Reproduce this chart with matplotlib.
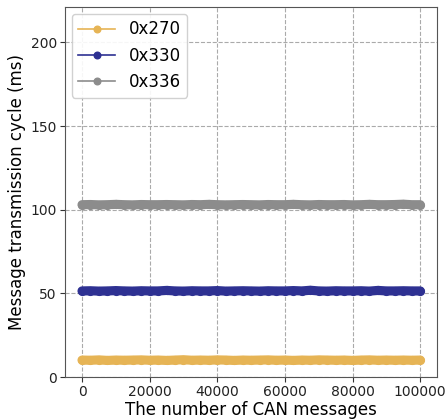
import matplotlib
matplotlib.use('Agg')
import matplotlib.pyplot as plt

# message index (every 2500 messages)
msg_idx = [0, 2500, 5000, 7500, 10000, 12500, 15000, 17500, 20000, 22500,
           25000, 27500, 30000, 32500, 35000, 37500, 40000, 42500, 45000, 47500,
           50000, 52500, 55000, 57500, 60000, 62500, 65000, 67500, 70000, 72500,
           75000, 77500, 80000, 82500, 85000, 87500, 90000, 92500, 95000, 97500,
           100000]

# transmission cycle (ms) per CAN ID
cyc_270 = [10.2, 10.1, 10.3, 10.0, 10.2, 10.1, 10.2, 10.3, 10.1, 10.2,
           10.0, 10.2, 10.4, 10.1, 10.2, 10.1, 10.3, 10.2, 10.0, 10.2,
           10.1, 10.2, 10.3, 10.1, 10.2, 10.0, 10.2, 10.1, 10.3, 10.2,
           10.1, 10.2, 10.0, 10.2, 10.3, 10.1, 10.2, 10.1, 10.2, 10.1,
           10.2]
cyc_330 = [51.5, 51.6, 51.4, 51.5, 51.7, 51.5, 51.4, 51.6, 51.5, 51.5,
           51.8, 51.5, 51.4, 51.6, 51.5, 51.5, 51.7, 51.4, 51.5, 51.6,
           51.5, 51.4, 51.6, 51.5, 51.5, 51.7, 51.5, 51.9, 51.5, 51.4,
           51.6, 51.5, 51.5, 51.6, 51.4, 51.8, 51.5, 51.5, 51.6, 51.5,
           51.5]
cyc_336 = [103.0, 103.1, 102.9, 103.0, 103.2, 103.0, 102.9, 103.1, 103.0, 103.0,
           103.1, 103.0, 102.9, 103.1, 103.0, 103.2, 103.0, 102.9, 103.0, 103.1,
           103.0, 102.9, 103.1, 103.0, 103.0, 103.2, 103.0, 102.9, 103.1, 103.0,
           103.0, 103.1, 102.9, 103.0, 103.2, 103.0, 103.0, 103.1, 103.3, 103.0,
           103.0]

names = ['0x270', '0x330', '0x336']
colors = ['#E6B455', '#2E3192', '#8C8C8C']

fig = plt.figure(figsize=(4.46, 4.2), dpi=100)
ax = fig.add_axes([0.146, 0.102, 0.834, 0.881])

for ys, name, c in zip([cyc_270, cyc_330, cyc_336], names, colors):
    # dense marker band
    ax.plot(msg_idx, ys, color=c, linewidth=6.6, solid_capstyle='round',
            solid_joinstyle='round')
    ax.plot(msg_idx, ys, color=c, marker='o', markersize=5.6, linewidth=1.2,
            label=name)

ax.set_xlim(-5000, 105000)
ax.set_ylim(0, 221)
ax.set_xticks([0, 20000, 40000, 60000, 80000, 100000])
ax.set_yticks([0, 50, 100, 150, 200])
ax.tick_params(labelsize=10, colors='#333333', labelcolor='#222222', pad=2.5)
ax.grid(True, linestyle='--', color='#AAAAAA', linewidth=0.8)
for s in ax.spines.values():
    s.set_color('#555555')

ax.set_xlabel('The number of CAN messages', fontsize=12, labelpad=1)
ax.set_ylabel('Message transmission cycle (ms)', fontsize=12, labelpad=3)

leg = ax.legend(loc='upper left', fontsize=12, handlelength=2.2,
                markerscale=0.85, borderaxespad=0.4, framealpha=0.9)

fig.savefig('out.png', dpi=100)
